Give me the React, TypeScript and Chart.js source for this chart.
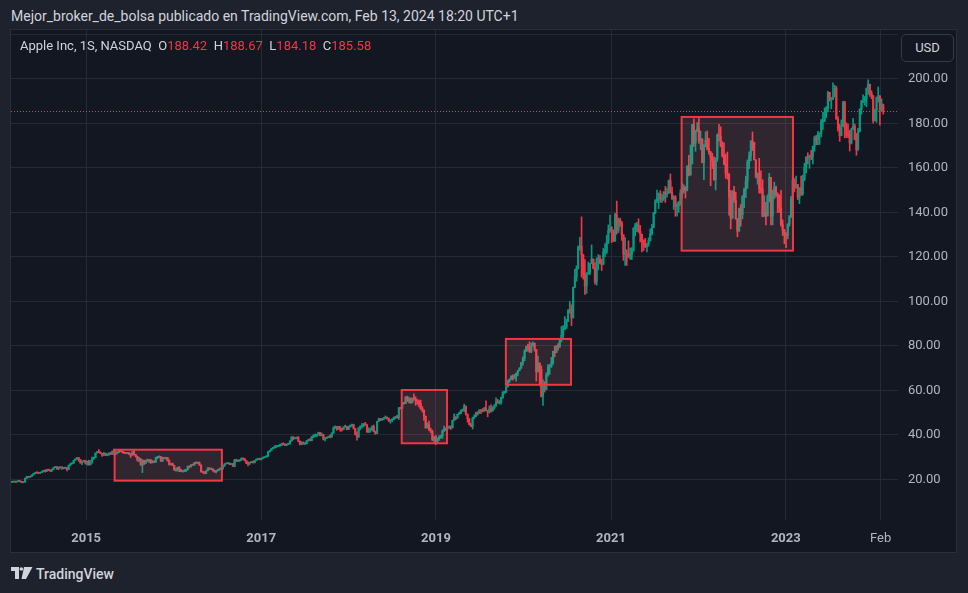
import React, { useEffect, useRef } from "react";
import { Chart, registerables } from "chart.js";

Chart.register(...registerables);

// ---- data: weekly candles of Apple Inc (NASDAQ), week of 2014-02-24 .. week of 2024-02-12 ----
const startMonday = "2014-02-24";
const firstOpen = 18.68;
const lastOpen = 188.42;

const closes2014 = [18.79,18.94,18.74,19.03,19.17,18.99,18.56,18.75,20.43,21.17,20.91,21.34,21.93,22.61,23.06,22.82,22.73,23.00,23.50,23.80,23.60,24.40,24.00,23.70,24.50,25.33,25.60,24.70,25.40,25.20,25.20,24.90,25.20,24.40,26.30,27.00,27.25,28.55,29.10,29.70,28.75,27.40,27.90,28.50,27.30];
const highs2014 = [18.97,19.12,19.03,19.16,19.37,19.23,19.04,18.90,20.50,21.37,21.27,21.45,21.96,22.66,23.17,23.38,23.07,23.11,23.70,24.08,24.25,24.50,24.62,24.15,24.58,25.40,25.73,25.72,25.55,25.60,25.35,25.35,25.50,25.30,26.40,27.05,27.45,28.60,29.30,29.87,29.85,29.00,28.30,28.60,28.55];
const lows2014 = [18.48,18.72,18.66,18.70,18.95,18.86,18.40,18.46,18.66,20.35,20.77,20.98,21.23,21.95,22.47,22.70,22.57,22.67,22.98,23.35,23.20,23.50,23.88,23.48,23.75,24.52,25.20,24.58,24.30,25.00,24.45,24.70,24.75,23.80,24.50,26.20,26.80,27.20,28.40,29.15,28.05,27.20,26.60,27.85,26.85];

const closes2015 = [28.00,26.50,28.25,29.30,29.70,31.80,32.40,32.10,31.65,30.90,31.50,30.80,31.30,31.80,31.20,32.60,32.20,31.90,32.20,33.10,32.60,32.20,31.80,31.65,31.70,31.60,30.80,32.40,31.10,30.30,28.90,29.00,26.40,28.30,27.30,28.55,28.40,28.70,27.60,28.00,27.80,29.80,29.90,30.30,28.10,29.80,29.45,29.75,28.30,26.50,27.00,26.30];
const highs2015 = [28.20,28.60,28.44,30.00,30.00,31.85,32.50,33.40,32.35,31.50,32.15,31.85,31.50,31.85,32.10,32.80,33.60,32.30,32.25,33.25,33.25,32.70,32.35,32.10,32.00,31.95,31.45,32.45,33.25,31.25,30.45,29.90,29.40,28.80,28.60,28.60,29.10,28.90,28.90,28.45,28.20,29.85,30.30,30.50,30.30,29.90,29.90,29.90,29.55,28.80,27.10,27.35];
const lows2015 = [26.35,26.40,26.55,27.20,29.00,29.75,31.75,32.00,31.50,30.30,30.70,30.60,30.55,30.75,31.10,31.60,31.20,31.05,31.40,32.00,32.50,31.90,31.65,31.50,31.55,31.05,29.80,30.95,30.95,30.00,28.15,27.80,26.35,23.00,26.60,27.10,28.00,27.50,27.15,27.30,27.45,27.60,29.25,29.75,28.00,28.35,29.30,29.10,28.20,26.45,26.45,26.20];

const closes2016 = [24.20,24.30,25.35,24.30,23.50,23.50,24.00,24.20,25.75,25.60,26.50,26.40,27.50,27.20,27.50,26.40,23.40,23.20,22.60,23.80,25.10,24.50,24.70,23.80,23.35,24.00,24.20,24.70,24.70,26.05,26.90,27.05,27.30,26.70,26.90,25.80,28.70,28.20,28.30,28.50,29.40,29.15,28.40,27.20,27.10,27.50,27.95,27.50,28.50,29.00,29.10,28.95];
const highs2016 = [26.35,25.05,25.45,25.70,24.50,24.00,24.40,24.40,25.95,25.90,26.60,26.70,27.55,27.90,27.75,27.80,26.50,23.60,23.40,23.95,25.10,25.20,25.00,24.70,24.15,24.05,24.25,25.00,25.00,26.20,27.00,27.25,27.55,27.30,27.05,27.20,29.00,29.05,28.65,28.80,29.60,29.50,29.45,28.55,27.80,27.65,28.10,28.20,28.55,29.25,29.30,29.50];
const lows2016 = [24.10,23.60,23.65,23.40,23.40,23.15,23.50,23.40,24.15,25.05,25.60,26.25,26.35,27.05,27.05,26.30,23.25,22.90,22.40,22.90,23.85,24.40,24.40,23.75,23.10,22.90,23.70,24.10,24.40,24.55,25.80,26.90,27.00,26.60,26.55,25.75,25.60,28.00,27.90,28.00,28.55,28.95,28.25,27.00,26.00,26.60,27.50,27.30,27.35,28.45,28.90,28.70];

const closes2017 = [29.50,29.80,30.00,30.50,32.30,33.00,33.90,34.20,34.80,34.80,35.00,35.20,35.90,35.80,35.30,35.60,35.90,37.20,39.00,38.30,38.40,38.90,37.20,35.60,36.60,36.00,36.00,37.30,37.60,37.40,39.10,39.40,39.40,40.00,41.00,39.70,40.00,38.00,38.50,38.80,39.20,39.10,40.80,43.10,43.70,42.50,43.70,42.80,42.30,43.50,43.75,42.30];
const highs2017 = [29.55,30.00,30.10,30.60,32.60,33.10,34.00,34.40,35.10,35.00,35.30,35.70,36.10,36.35,35.90,35.90,36.10,37.25,39.20,39.15,38.60,39.00,39.20,37.20,36.90,36.80,36.40,37.40,38.00,38.30,39.30,40.00,40.40,40.10,41.20,41.10,40.80,40.20,38.80,39.00,39.40,40.00,40.90,43.60,44.05,43.60,43.90,43.70,42.90,43.60,44.30,43.60];
const lows2017 = [28.70,29.40,29.70,30.00,30.20,32.30,33.00,33.80,34.00,34.30,34.70,34.80,35.10,35.60,35.15,35.10,35.50,36.00,37.20,37.80,38.10,38.20,36.90,35.40,35.70,35.80,35.60,35.90,37.20,37.20,37.30,38.70,39.00,39.20,39.90,39.50,39.50,37.70,37.30,38.30,38.80,38.60,38.90,40.70,42.90,42.10,42.50,41.60,41.65,42.40,43.50,42.30];

const closes2018 = [43.75,44.30,44.60,42.90,40.10,39.10,43.10,43.90,44.05,45.00,44.50,41.20,41.90,42.10,43.70,41.40,40.60,46.00,47.10,46.60,47.10,47.60,47.90,47.20,46.20,46.30,47.00,47.80,47.90,47.70,52.00,51.90,54.40,54.00,56.90,55.30,56.00,54.40,56.40,56.10,55.50,54.80,54.10,51.90,51.10,48.40,43.10,44.60,42.10,41.40,37.70,39.10,37.10];
const highs2018 = [43.85,44.35,44.85,44.60,42.50,41.35,43.20,44.00,45.00,45.05,45.60,44.60,43.20,43.00,44.00,44.40,41.70,46.10,47.50,47.40,47.40,47.70,48.50,48.00,47.60,46.80,47.20,48.00,48.00,48.80,52.30,52.40,54.50,54.60,57.20,57.40,57.00,56.60,56.60,58.40,57.10,55.90,55.60,55.60,52.70,50.40,47.90,45.30,46.20,43.00,42.10,39.30,39.80];
const lows2018 = [42.30,43.40,43.80,42.60,39.95,37.55,38.75,42.30,43.10,43.60,44.30,41.20,41.00,41.20,42.40,41.30,40.20,41.30,46.00,46.40,46.60,46.80,47.40,47.00,45.90,45.20,45.90,46.80,47.30,47.50,46.90,51.60,51.80,53.80,54.10,54.90,54.30,54.10,54.60,55.50,53.30,53.60,52.50,51.40,50.30,46.50,43.00,43.30,42.00,41.00,37.40,36.60,35.50];

const closes2019 = [38.10,39.20,39.40,41.60,42.60,42.60,43.20,43.70,43.20,46.50,47.80,47.50,49.25,49.70,51.00,51.10,52.90,49.30,47.25,44.70,43.80,47.50,48.20,49.70,49.50,51.10,50.80,50.60,51.90,51.00,50.20,51.60,50.70,52.20,53.30,54.70,54.40,54.70,56.75,59.10,59.10,61.60,64.00,65.00,66.40,65.40,66.80,67.70,68.80,69.90,72.45,74.40];
const highs2019 = [38.60,39.50,39.80,42.20,43.90,43.00,43.40,44.00,44.00,46.60,49.40,48.20,49.30,50.20,51.10,51.60,53.80,52.90,48.70,47.30,45.20,47.90,49.00,50.20,50.40,51.30,51.20,51.80,52.40,55.30,51.00,53.00,53.50,52.60,53.60,56.60,55.90,55.40,57.00,59.40,59.60,61.70,64.50,65.20,66.50,66.90,67.20,67.80,69.00,70.20,72.50,75.10];
const lows2019 = [36.50,37.50,38.40,38.40,41.90,42.00,42.40,42.90,42.40,43.00,46.40,46.80,47.70,49.00,49.50,50.60,50.40,48.80,45.70,44.40,43.70,42.60,47.40,48.40,48.80,49.70,49.60,50.30,50.60,50.80,48.10,49.80,50.20,50.80,51.50,52.80,54.20,53.80,53.80,56.40,58.50,59.30,61.50,63.60,64.80,64.60,65.80,64.10,66.50,68.80,70.70,71.30];

const closes2020 = [77.60,79.70,79.60,77.40,80.00,81.20,78.30,68.30,72.30,69.50,57.30,61.90,60.35,67.00,70.70,70.70,72.30,77.50,76.90,79.70,79.50,82.90,84.70,87.40,88.40,91.00,95.90,96.30,92.60,106.30,111.10,114.90,124.40,124.80,120.96,112.00,106.84,112.28,113.02,116.97,119.02,115.04,108.86,118.69,119.26,117.34,116.59,122.25,122.41,126.66,131.97,132.69];
const highs2020 = [78.20,79.70,80.80,81.90,81.20,81.80,81.20,76.00,75.40,71.60,71.00,64.70,63.90,67.90,71.60,71.60,74.80,77.60,79.90,80.20,81.00,83.00,88.70,89.10,93.10,91.90,96.30,99.90,98.50,106.40,114.40,116.00,124.90,128.80,137.98,121.00,118.80,112.90,117.70,117.00,125.40,118.90,117.30,119.60,121.00,120.60,118.80,123.80,125.90,129.60,134.40,138.80];
const lows2020 = [73.20,77.40,77.70,77.00,76.90,79.70,77.60,64.10,69.40,62.00,57.00,53.20,59.20,62.30,66.40,67.20,70.30,71.60,75.10,77.00,78.00,79.30,81.80,83.10,87.70,87.80,91.20,94.70,89.10,93.20,106.50,109.10,114.50,123.00,110.89,110.00,103.10,103.60,112.20,112.00,118.80,114.60,107.70,107.30,114.10,116.80,113.90,116.80,120.10,121.50,126.00,131.00];

const closes2021 = [132.05,127.14,139.07,131.96,136.76,135.37,129.87,121.26,121.42,121.03,119.99,121.21,123.00,133.00,134.16,134.32,131.46,130.21,127.45,125.43,124.61,125.89,127.35,130.46,133.11,139.96,145.11,146.39,148.56,145.86,146.14,149.10,148.19,148.60,154.30,148.97,146.06,146.92,142.65,142.90,144.84,148.69,149.80,151.28,149.99,160.55,156.81,161.84,179.45,171.14,176.28,177.57];
const highs2021 = [133.60,131.50,139.70,145.09,137.40,137.40,136.00,128.70,128.70,123.20,127.20,123.90,124.20,133.04,135.00,135.50,137.10,134.10,129.50,127.70,128.30,126.00,128.50,132.60,134.60,140.00,145.70,150.00,148.70,149.80,148.00,149.40,151.70,150.90,154.60,157.26,151.40,147.50,147.50,144.20,144.90,150.20,153.20,152.40,151.60,161.00,165.70,170.30,179.60,182.10,176.90,180.40];
const lows2021 = [126.40,126.90,126.90,130.20,130.90,133.70,127.40,118.40,116.20,116.20,119.70,118.90,118.90,122.50,129.50,131.30,131.00,126.70,122.20,122.80,124.20,122.20,124.80,127.10,129.80,133.30,139.40,144.40,141.70,144.50,144.50,145.30,144.50,146.80,148.60,148.70,145.80,141.30,138.30,138.30,140.00,143.20,146.40,148.70,146.50,149.70,156.40,157.80,164.30,169.70,167.50,177.10];

const closes2022 = [172.17,173.07,162.41,170.33,172.39,168.64,167.30,164.85,163.17,154.73,163.98,174.72,174.31,170.09,165.29,161.79,157.65,157.28,147.11,137.59,149.64,145.38,137.13,131.56,141.66,138.93,147.04,150.17,154.09,162.51,165.35,172.10,171.52,163.62,155.81,157.37,150.70,150.43,138.20,140.09,138.38,147.27,155.74,138.38,149.70,151.29,148.11,147.81,142.16,134.51,131.86,129.93];
const highs2022 = [182.94,176.60,172.50,170.40,176.20,176.60,173.30,166.20,166.60,165.00,164.50,175.30,179.60,178.50,171.80,171.30,166.20,167.10,156.70,149.80,149.70,151.70,149.00,137.30,141.90,143.50,147.60,150.90,156.30,163.60,167.20,172.20,176.15,169.20,162.60,157.80,164.30,158.70,154.70,147.50,144.50,147.90,157.50,155.50,150.00,153.60,151.80,148.80,147.30,149.97,136.60,132.40];
const lows2022 = [171.00,168.20,162.30,154.70,169.50,168.10,166.20,152.00,159.70,154.50,150.10,163.00,172.00,169.50,164.90,161.50,155.30,154.90,138.80,132.60,137.10,144.50,136.90,129.04,133.30,133.80,137.10,142.10,146.70,150.80,159.60,163.30,167.80,163.60,155.50,152.70,148.60,148.60,138.00,138.20,134.40,140.30,144.80,134.40,134.40,146.10,146.90,139.90,140.00,133.70,129.60,125.90];

const closes2023 = [129.62,134.76,137.87,145.93,154.50,151.01,152.55,146.71,151.03,148.50,155.00,160.25,164.90,164.66,165.21,165.02,169.68,173.57,172.57,175.16,175.43,180.95,180.96,184.92,186.68,193.97,190.68,190.69,191.94,195.83,181.99,177.79,174.49,178.61,189.46,178.18,175.01,174.79,171.21,177.49,178.85,172.88,168.22,176.65,186.40,189.69,189.97,191.24,195.71,197.57,193.60,192.53];
const highs2023 = [130.90,134.90,138.60,147.20,157.40,155.20,156.30,151.30,151.10,156.30,156.70,162.10,165.00,166.80,165.80,167.90,169.85,174.30,174.60,176.40,175.80,181.80,184.95,186.99,187.60,194.48,193.90,191.70,198.23,197.20,196.70,183.10,179.70,181.60,189.90,189.98,180.30,179.70,176.90,177.90,182.30,179.70,175.50,177.80,186.60,190.40,192.90,192.10,195.99,199.62,197.70,194.70];
const lows2023 = [124.17,128.10,133.80,137.90,141.30,149.20,150.90,145.70,143.90,147.60,147.70,154.20,157.70,161.80,159.80,163.70,161.80,167.50,170.40,170.40,170.50,173.90,177.30,180.90,182.60,185.20,190.00,186.60,191.20,192.30,181.90,176.50,171.96,174.40,178.80,173.50,173.60,173.60,167.60,170.80,177.30,172.60,165.67,167.90,176.20,184.20,189.20,188.20,187.50,193.00,192.10,191.10];

const closes2024 = [181.18,185.92,191.56,192.42,185.85,188.85,185.58];
const highs2024 = [188.40,186.40,191.90,196.40,192.20,191.05,188.67];
const lows2024 = [180.17,181.50,180.50,189.60,179.20,185.80,184.18];

// time-axis labels (date of the grid line, text)
const xTickDates = ["2015-01-01", "2017-01-01", "2019-01-01", "2021-01-01", "2023-01-01", "2024-02-01"];
const xTickLabels = ["2015", "2017", "2019", "2021", "2023", "Feb"];
// price-axis ticks
const yTickValues = [20, 40, 60, 80, 100, 120, 140, 160, 180, 200, 220];

// highlighted zones: start date, end date, top price, bottom price
const zoneStarts = ["2015-04-30", "2018-08-11", "2019-10-20", "2021-10-23"];
const zoneEnds = ["2016-07-21", "2019-02-16", "2020-07-18", "2023-01-31"];
const zoneTops = [33.3, 60.15, 83.1, 182.9];
const zoneBottoms = [19.37, 36.2, 62.5, 122.8];

const symbolText = "Apple Inc, 1S, NASDAQ";
const headerText = "Mejor_broker_de_bolsa publicado en TradingView.com, Feb 13, 2024 18:20 UTC+1";

// ---- styles ----
const UP = "#089981";
const DOWN = "#f23645";
const GRID = "#262a35";
const AXIS_TEXT = "#b2b5be";
const FONT = "Roboto, 'Noto Sans', sans-serif";

const closes = [...closes2014, ...closes2015, ...closes2016, ...closes2017, ...closes2018, ...closes2019, ...closes2020, ...closes2021, ...closes2022, ...closes2023, ...closes2024];
const highs = [...highs2014, ...highs2015, ...highs2016, ...highs2017, ...highs2018, ...highs2019, ...highs2020, ...highs2021, ...highs2022, ...highs2023, ...highs2024];
const lows = [...lows2014, ...lows2015, ...lows2016, ...lows2017, ...lows2018, ...lows2019, ...lows2020, ...lows2021, ...lows2022, ...lows2023, ...lows2024];
const n = closes.length;
// weekly open = previous week's close
const opens = closes.map((c, i) => (i === 0 ? firstOpen : closes[i - 1]));
opens[n - 1] = lastOpen;

const WEEK = 7 * 86400000;
const weekIndex = (d: string) => (Date.parse(d) - Date.parse(startMonday)) / WEEK;
const xTickValues = xTickDates.map(weekIndex);

export default function App() {
  const ref = useRef<HTMLCanvasElement>(null);

  useEffect(() => {
    const canvas = ref.current;
    if (!canvas) return;
    const colors = closes.map((c, i) => (c >= opens[i] ? UP : DOWN));
    const wickData = closes.map((c, i) => ({
      x: i,
      y: [Math.min(lows[i], opens[i], c), Math.max(highs[i], opens[i], c)],
    }));
    const bodyData = closes.map((c, i) => ({ x: i, y: [opens[i], c] }));

    const overlay = {
      id: "overlay",
      afterDatasetsDraw(chart: any) {
        const { ctx, chartArea, scales } = chart;
        const xs = scales.x;
        const ys = scales.y;
        ctx.save();
        ctx.beginPath();
        ctx.rect(chartArea.left, chartArea.top, chartArea.right - chartArea.left, chartArea.bottom - chartArea.top);
        ctx.clip();
        for (let k = 0; k < zoneStarts.length; k++) {
          const x1 = xs.getPixelForValue(weekIndex(zoneStarts[k]));
          const x2 = xs.getPixelForValue(weekIndex(zoneEnds[k]));
          const y1 = ys.getPixelForValue(zoneTops[k]);
          const y2 = ys.getPixelForValue(zoneBottoms[k]);
          ctx.fillStyle = "rgba(255,140,150,0.125)";
          ctx.fillRect(x1, y1, x2 - x1, y2 - y1);
          ctx.strokeStyle = DOWN;
          ctx.lineWidth = 2;
          ctx.strokeRect(x1, y1, x2 - x1, y2 - y1);
        }
        const py = Math.round(ys.getPixelForValue(closes[n - 1])) + 0.5;
        ctx.setLineDash([1, 2]);
        ctx.strokeStyle = closes[n - 1] >= opens[n - 1] ? UP : DOWN;
        ctx.lineWidth = 1;
        ctx.beginPath();
        ctx.moveTo(chartArea.left, py);
        ctx.lineTo(chartArea.right, py);
        ctx.stroke();
        ctx.restore();
      },
    };

    const chart = new Chart(canvas, {
      type: "bar",
      data: {
        datasets: [
          {
            data: wickData as any,
            backgroundColor: colors,
            barThickness: 1,
            grouped: false,
            order: 2,
            borderWidth: 0,
          } as any,
          {
            data: bodyData as any,
            backgroundColor: colors,
            barThickness: 1.5,
            grouped: false,
            minBarLength: 1,
            order: 1,
            borderWidth: 0,
          } as any,
        ],
      },
      options: {
        animation: false,
        responsive: false,
        maintainAspectRatio: false,
        events: [],
        layout: { padding: 0 },
        plugins: { legend: { display: false }, tooltip: { enabled: false } },
        scales: {
          x: {
            type: "linear",
            min: -0.4,
            max: 528.8,
            bounds: "data",
            offset: false,
            grid: { color: GRID, drawTicks: false, offset: false },
            border: { display: false },
            afterBuildTicks: (s: any) => {
              s.ticks = xTickValues.map((v) => ({ value: v }));
            },
            afterFit: (s: any) => {
              s.height = 32;
              s.paddingLeft = 0;
              s.paddingRight = 0;
            },
            ticks: {
              autoSkip: false,
              maxRotation: 0,
              padding: 11,
              color: AXIS_TEXT,
              font: (c: any) => {
                const lbl = c.tick ? c.tick.label : "";
                return { family: FONT, size: 13, weight: lbl === "Feb" ? "normal" : "bold" };
              },
              callback: (v: any) => {
                const k = xTickValues.findIndex((t) => Math.abs(t - v) < 1e-6);
                return k >= 0 ? xTickLabels[k] : "";
              },
            },
          } as any,
          y: {
            type: "linear",
            position: "right",
            min: 1.7,
            max: 222,
            bounds: "data",
            grid: { color: GRID, drawTicks: false },
            border: { display: false },
            afterBuildTicks: (s: any) => {
              s.ticks = yTickValues.map((v) => ({ value: v }));
            },
            afterFit: (s: any) => {
              s.width = 58;
              s.paddingTop = 0;
              s.paddingBottom = 0;
            },
            ticks: {
              padding: 10,
              color: AXIS_TEXT,
              font: { family: FONT, size: 13 },
              callback: (v: any) => (v >= 220 ? "" : Number(v).toFixed(2)),
            },
          } as any,
        },
      },
      plugins: [overlay],
    });
    return () => chart.destroy();
  }, []);

  const lastO = opens[n - 1].toFixed(2);
  const lastH = highs[n - 1].toFixed(2);
  const lastL = lows[n - 1].toFixed(2);
  const lastC = closes[n - 1].toFixed(2);
  const valColor = closes[n - 1] >= opens[n - 1] ? UP : DOWN;

  return (
    <div
      style={{
        position: "fixed",
        left: 0,
        top: 0,
        width: 968,
        height: 593,
        background: "#1e222d",
        overflow: "hidden",
        fontFamily: FONT,
      }}
    >
      <div
        style={{
          position: "absolute",
          left: 11,
          top: 6,
          fontSize: 14,
          color: "#d1d4dc",
          whiteSpace: "nowrap",
          lineHeight: "20px",
        }}
      >
        {headerText}
      </div>
      <div
        style={{
          position: "absolute",
          left: 10,
          top: 29,
          width: 947,
          height: 524,
          boxSizing: "border-box",
          border: "1px solid #2a2e39",
          background: "#131722",
        }}
      >
        <canvas ref={ref} width={945} height={522} style={{ width: 945, height: 522, display: "block" }} />
        <div
          style={{
            position: "absolute",
            left: 9,
            top: 7,
            fontSize: 13,
            lineHeight: "18px",
            color: "#d1d4dc",
            whiteSpace: "pre",
          }}
        >
          {symbolText + "  "}O<span style={{ color: valColor }}>{lastO}</span>{"  "}H
          <span style={{ color: valColor }}>{lastH}</span>{"  "}L
          <span style={{ color: valColor }}>{lastL}</span>{"  "}C
          <span style={{ color: valColor }}>{lastC}</span>
        </div>
        <div
          style={{
            position: "absolute",
            left: 890,
            top: 4,
            width: 53,
            height: 28,
            boxSizing: "border-box",
            border: "1px solid #363a45",
            borderRadius: 5,
            background: "#131722",
            color: "#d1d4dc",
            fontSize: 13,
            lineHeight: "26px",
            textAlign: "center",
          }}
        >
          USD
        </div>
      </div>
      <svg style={{ position: "absolute", left: 11, top: 567 }} width={22} height={12} viewBox="0 0 22 12">
        <path d="M0 0 H8 V12 H4 V4 H0 Z" fill="#d1d4dc" />
        <circle cx={10.3} cy={2} r={1.8} fill="#d1d4dc" />
        <path d="M13 0 H21.5 L15 12 H10.5 Z" fill="#d1d4dc" />
      </svg>
      <div
        style={{
          position: "absolute",
          left: 36,
          top: 565,
          fontSize: 14,
          lineHeight: "18px",
          color: "#d1d4dc",
          fontWeight: 500,
        }}
      >
        TradingView
      </div>
    </div>
  );
}
